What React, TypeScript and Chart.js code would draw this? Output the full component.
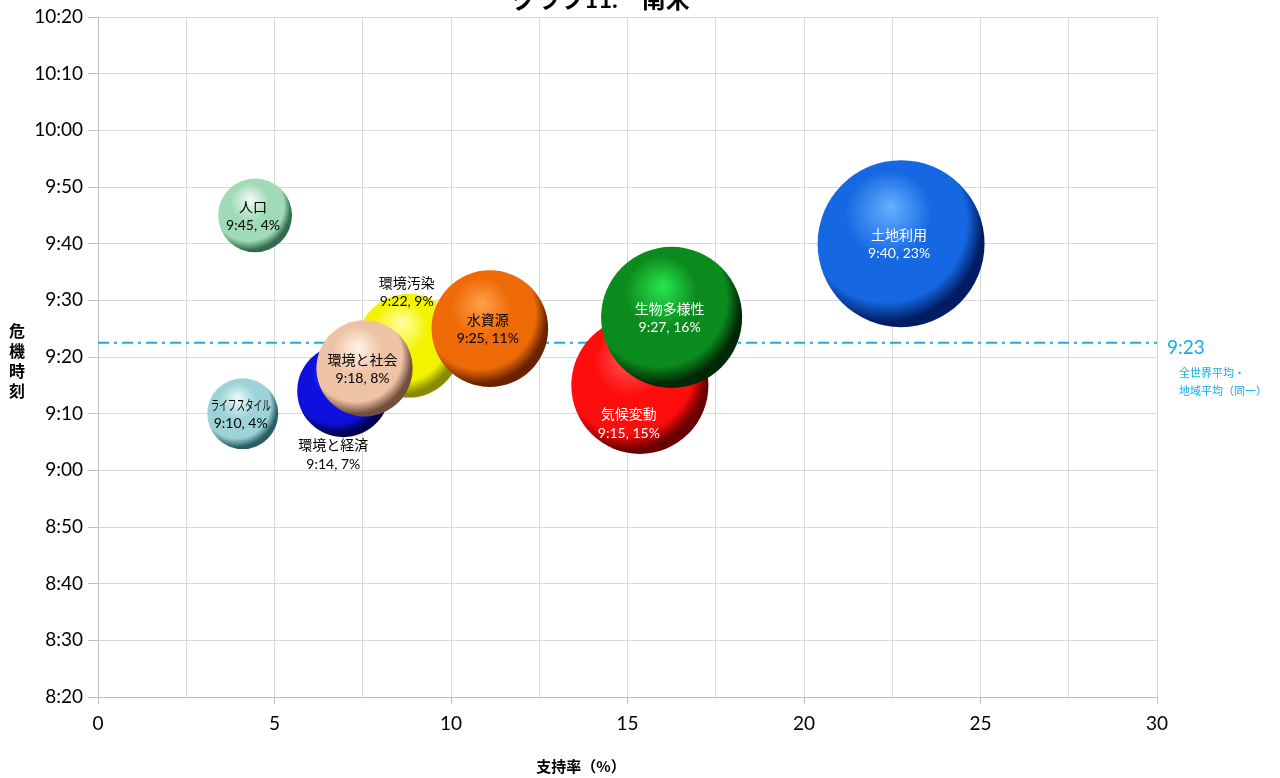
import React, { useEffect, useRef } from 'react';
import { Chart, registerables } from 'chart.js';

Chart.register(...registerables);

// ---- data ----
const categories = ['人口', 'ライフスタイル', '環境汚染', '環境と経済', '環境と社会', '水資源', '気候変動', '生物多様性', '土地利用'];
const supportRates = [4.45, 4.1, 8.8, 6.95, 7.55, 11.1, 15.35, 16.25, 22.75];
const crisisMinutes = [585, 550, 562, 554, 558, 565, 555, 567, 580]; // minutes after 0:00
const averageMinutes = 562.5;
const averageNote = ['全世界平均・', '地域平均（同一）'];
const xTickLabels = [0, 5, 10, 15, 20, 25, 30];
const xGridStep = 2.5;
const yMin = 500; // 8:20
const yMax = 620; // 10:20
const yStep = 10;
const titleText = 'グラフ11.　南米';
const xTitle = '支持率（%）';
const yTitle = ['危', '機', '時', '刻'];

// ---- styles ----
const sphereColors = [
  { hi: '#f2fbf5', base: '#a0dab6', edge: '#2f6b4c' },
  { hi: '#eef9fa', base: '#9dd3d7', edge: '#285f66' },
  { hi: '#ffffa8', base: '#f3f300', edge: '#8a8a00' },
  { hi: '#5a5aff', base: '#1010dc', edge: '#000050' },
  { hi: '#fff3ea', base: '#eec2a4', edge: '#74503c' },
  { hi: '#ffa04a', base: '#ee6a06', edge: '#6a2200' },
  { hi: '#ff6060', base: '#ff0c0c', edge: '#6a0000' },
  { hi: '#28e64c', base: '#0b8a1d', edge: '#002807' },
  { hi: '#66b0ff', base: '#1668e2', edge: '#001c62' },
];
const labelColors = ['#000', '#000', '#000', '#000', '#000', '#000', '#fff', '#fff', '#fff'];
const labelPlacement = ['center', 'center', 'above', 'below', 'center', 'center', 'low', 'center', 'center'];
const avgColor = '#12aee8';
const LATIN = 'Lato, "Noto Sans CJK JP"';
const CJK = '"Noto Sans CJK JP", Lato';
const RADIUS_K = 17.5;

function fmt(m: number): string {
  const mm = Math.round(m);
  const h = Math.floor(mm / 60);
  const r = mm % 60;
  return `${h}:${String(r).padStart(2, '0')}`;
}

const textPlugin = {
  id: 'customText',
  beforeDatasetsDraw(chart: any) {
    const { ctx, chartArea, scales } = chart;
    const y = scales.y.getPixelForValue(averageMinutes);
    ctx.save();
    ctx.strokeStyle = avgColor;
    ctx.lineWidth = 2;
    ctx.setLineDash([11, 5, 3, 5]);
    ctx.beginPath();
    ctx.moveTo(chartArea.left, y);
    ctx.lineTo(chartArea.right, y);
    ctx.stroke();
    ctx.restore();
  },
  afterDatasetsDraw(chart: any) {
    const { ctx } = chart;
    const meta = chart.getDatasetMeta(0);
    ctx.save();
    meta.data.forEach((el: any, i: number) => {
      const { x, y } = el.getProps(['x', 'y'], true);
      const r = el.options.radius;
      const name = categories[i];
      const val = `${fmt(crisisMinutes[i])}, ${Math.round(supportRates[i])}%`;
      let y1 = y - 9;
      let y2 = y + 10;
      let lx = x - 2;
      if (labelPlacement[i] === 'above') {
        y1 = y - r - 11;
        y2 = y - r + 8;
      } else if (labelPlacement[i] === 'below') {
        y1 = y + r + 8;
        y2 = y + r + 27;
        lx = x - 10;
      } else if (labelPlacement[i] === 'low') {
        y1 = y + 28;
        y2 = y + 48;
        lx = x - 11;
      }
      ctx.fillStyle = labelColors[i];
      ctx.textAlign = 'center';
      ctx.textBaseline = 'middle';
      ctx.font = `14px ${CJK}`;
      if (name.length > 5) {
        ctx.fillText(name, lx, y1, 60);
      } else {
        ctx.fillText(name, lx, y1);
      }
      ctx.font = `14px ${LATIN}`;
      ctx.fillText(val, lx, y2);
    });
    ctx.restore();
  },
  afterDraw(chart: any) {
    const { ctx, scales } = chart;
    ctx.save();
    // title (mostly cut off at the top)
    ctx.fillStyle = '#000';
    ctx.textAlign = 'center';
    ctx.textBaseline = 'alphabetic';
    ctx.font = `bold 24px ${LATIN}`;
    ctx.fillText(titleText, 601, 8);

    // y title
    ctx.font = `bold 16px ${CJK}`;
    ctx.textBaseline = 'middle';
    yTitle.forEach((c, i) => ctx.fillText(c, 17, 331 + i * 20));

    // x title
    ctx.font = `bold 15px ${CJK}`;
    ctx.fillText(xTitle, 581, 766);

    // average label
    const ay = scales.y.getPixelForValue(averageMinutes);
    ctx.fillStyle = avgColor;
    ctx.textAlign = 'left';
    ctx.font = `19px ${LATIN}`;
    ctx.fillText(fmt(averageMinutes), 1167, ay + 5);
    ctx.font = `11px ${CJK}`;
    ctx.fillText(averageNote[0], 1179, ay + 30);
    ctx.fillText(averageNote[1], 1179, ay + 48);
    ctx.restore();
  },
};

export default function App() {
  const ref = useRef<HTMLCanvasElement | null>(null);
  useEffect(() => {
    if (!ref.current) return;
    const points = categories.map((_, i) => ({
      x: supportRates[i],
      y: crisisMinutes[i],
      r: RADIUS_K * Math.sqrt(supportRates[i]),
    }));
    const chart = new Chart(ref.current, {
      type: 'bubble',
      data: {
        datasets: [
          {
            data: points,
            borderWidth: 0,
            borderColor: 'rgba(0,0,0,0)',
            backgroundColor: (c: any) => {
              const chart = c.chart;
              const raw = c.raw;
              const sx = chart.scales && chart.scales.x;
              const sy = chart.scales && chart.scales.y;
              const col = sphereColors[c.dataIndex] || sphereColors[0];
              if (!raw || !sx || !sy) return col.base;
              const cx = sx.getPixelForValue(raw.x);
              const cy = sy.getPixelForValue(raw.y);
              const r = raw.r;
              if (!isFinite(cx) || !isFinite(cy)) return col.base;
              const g = chart.ctx.createRadialGradient(
                cx - 0.12 * r, cy - 0.45 * r, 0,
                cx - 0.2 * r, cy - 0.2 * r, 1.3 * r
              );
              g.addColorStop(0, col.hi);
              g.addColorStop(0.4, col.base);
              g.addColorStop(0.74, col.base);
              g.addColorStop(0.9, col.edge);
              g.addColorStop(1, col.edge);
              return g;
            },
            hoverBorderWidth: 0,
            clip: false,
          } as any,
        ],
      },
      options: {
        animation: false,
        responsive: true,
        maintainAspectRatio: false,
        events: [],
        layout: { autoPadding: false, padding: { left: 0, right: 123, top: 17, bottom: 0 } },
        plugins: {
          legend: { display: false },
          tooltip: { enabled: false },
          title: { display: false },
        },
        scales: {
          x: {
            type: 'linear',
            min: 0,
            max: 30,
            afterFit: (s: any) => { s.height = 81; },
            ticks: {
              stepSize: xGridStep,
              autoSkip: false,
              maxRotation: 0,
              padding: 8,
              color: '#000',
              font: { family: 'Lato', size: 19 },
              callback: (v: any) => (xTickLabels.includes(Number(v)) ? String(v) : ''),
            },
            grid: {
              color: '#d9d9d9',
              lineWidth: 1,
              tickLength: 7,
              tickColor: (c: any) => (c.tick && xTickLabels.includes(c.tick.value) ? '#bfbfbf' : 'rgba(0,0,0,0)'),
            },
            border: { display: true, color: '#bfbfbf' },
          },
          y: {
            type: 'linear',
            min: yMin,
            max: yMax,
            afterFit: (s: any) => { s.width = 98; },
            ticks: {
              stepSize: yStep,
              padding: 5,
              color: '#000',
              font: { family: 'Lato', size: 19 },
              callback: (v: any) => fmt(Number(v)),
            },
            grid: {
              color: '#d9d9d9',
              lineWidth: 1,
              tickLength: 10,
              tickColor: '#bfbfbf',
            },
            border: { display: true, color: '#bfbfbf' },
          },
        },
      } as any,
      plugins: [textPlugin],
    });
    return () => chart.destroy();
  }, []);
  return (
    <div style={{ position: 'absolute', left: 0, top: 0, width: 1280, height: 778, background: '#fff' }}>
      <canvas ref={ref} />
    </div>
  );
}
